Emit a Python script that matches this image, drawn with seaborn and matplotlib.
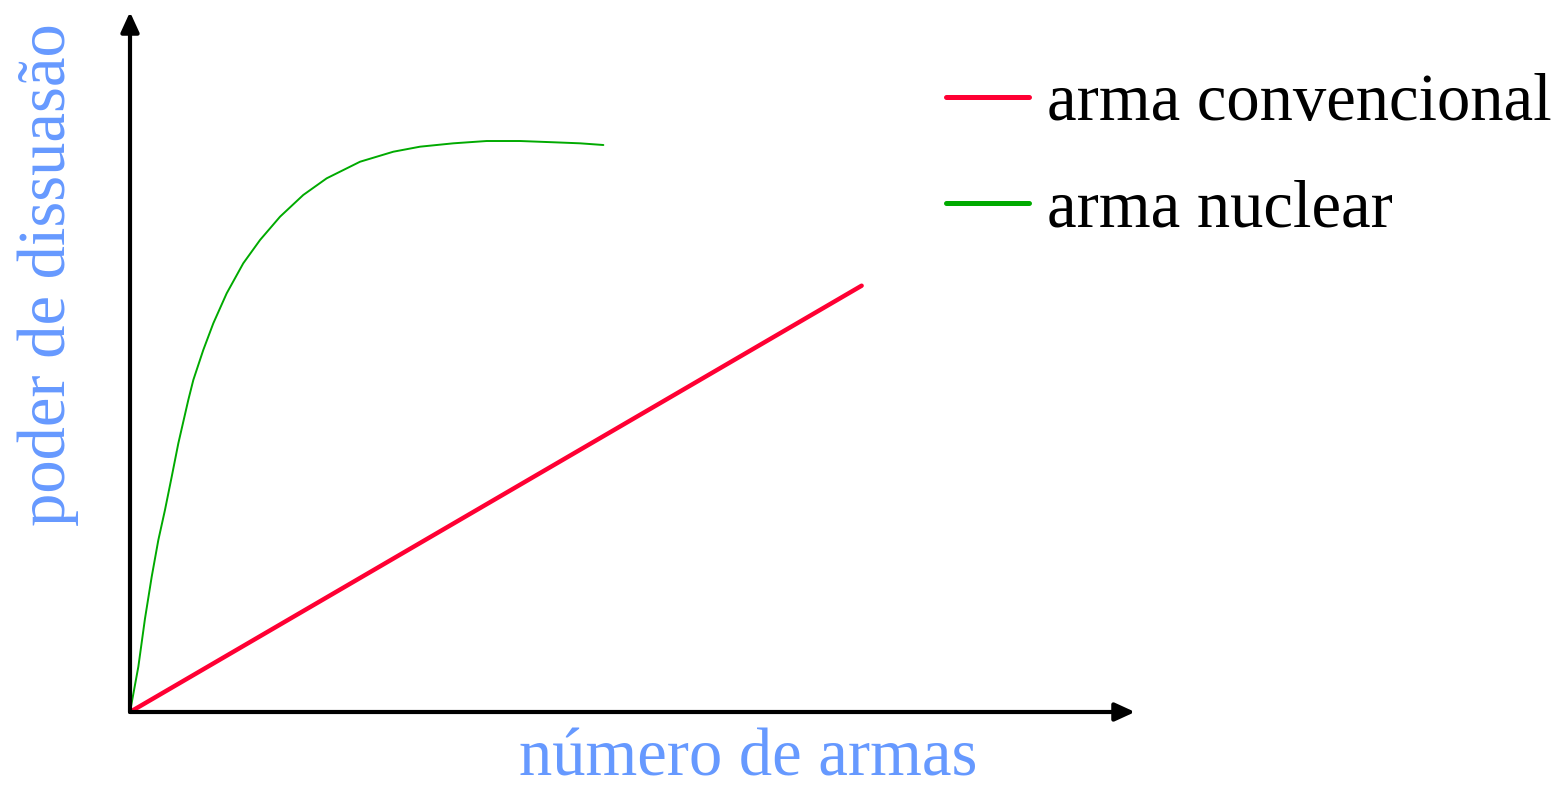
import matplotlib
matplotlib.use("Agg")
import matplotlib.pyplot as plt
import seaborn as sns
import pandas as pd

sns.set_style("white")
plt.rcParams["font.family"] = ["Liberation Serif", "DejaVu Serif"]

# conventional weapons: straight line
conv_x = [0.0, 7.28]
conv_y = [0.0, 6.09]

# nuclear weapons: fast rise, then flat
nuc_x = [0.0, 0.083, 0.149, 0.216, 0.282, 0.348, 0.415, 0.481, 0.580, 0.630, 0.729, 0.829,
         0.962, 1.127, 1.294, 1.493, 1.724, 1.957, 2.289, 2.620, 2.886, 3.217, 3.549,
         3.881, 4.212, 4.478, 4.710]
nuc_y = [0.0, 0.647, 1.333, 1.933, 2.457, 2.886, 3.361, 3.839, 4.457, 4.743, 5.171, 5.553,
         5.981, 6.410, 6.743, 7.076, 7.386, 7.624, 7.861, 8.004, 8.076, 8.124, 8.157,
         8.157, 8.139, 8.124, 8.100]

labels = ["arma convencional", "arma nuclear"]
colors = ["#FF0033", "#00AA00"]
blue = "#6699FF"

df_conv = pd.DataFrame({"x": conv_x, "y": conv_y})
df_nuc = pd.DataFrame({"x": nuc_x, "y": nuc_y})

W, H = 1557, 787
fig = plt.figure(figsize=(W / 100, H / 100), dpi=100)
ax = fig.add_axes([130 / W, (H - 712) / H, (1135 - 130) / W, 700 / H])

sns.lineplot(x="x", y="y", data=df_conv, color=colors[0], linewidth=3.2, label=labels[0], ax=ax, sort=False)
sns.lineplot(x="x", y="y", data=df_nuc, color=colors[1], linewidth=1.4, label=labels[1], ax=ax, sort=False)

ax.set_xlim(0, 10)
ax.set_ylim(0, 10)
ax.set_xticks([])
ax.set_yticks([])
ax.set_xlabel("")
ax.set_ylabel("")
for s in ax.spines.values():
    s.set_visible(False)

# axes with arrow heads
arrow = dict(arrowstyle="-|>,head_length=1.2,head_width=0.55", color="black", lw=3.0, shrinkA=0, shrinkB=0)
ax.annotate("", xy=(1, 0), xytext=(0, 0), xycoords="axes fraction", arrowprops=arrow, annotation_clip=False)
ax.annotate("", xy=(0, 1), xytext=(0, 0), xycoords="axes fraction", arrowprops=arrow, annotation_clip=False)

fig.text(748 / W, 1 - 775 / H, "número de armas", color=blue, fontsize=48, ha="center", va="baseline")
fig.text(48 / W, 1 - 275 / H, "poder de dissuasão", color=blue, fontsize=48, ha="center", va="center", rotation=90)

leg = ax.legend(loc="upper left", bbox_to_anchor=(946 / W, 1 - 73 / H), bbox_transform=fig.transFigure,
                frameon=False, fontsize=48, handlelength=1.25, handletextpad=0.27, labelspacing=0.68,
                borderpad=0, borderaxespad=0)
for line in leg.get_lines():
    line.set_linewidth(3.6)
for t in leg.get_texts():
    t.set_color("black")

fig.savefig("out.png", dpi=100)
